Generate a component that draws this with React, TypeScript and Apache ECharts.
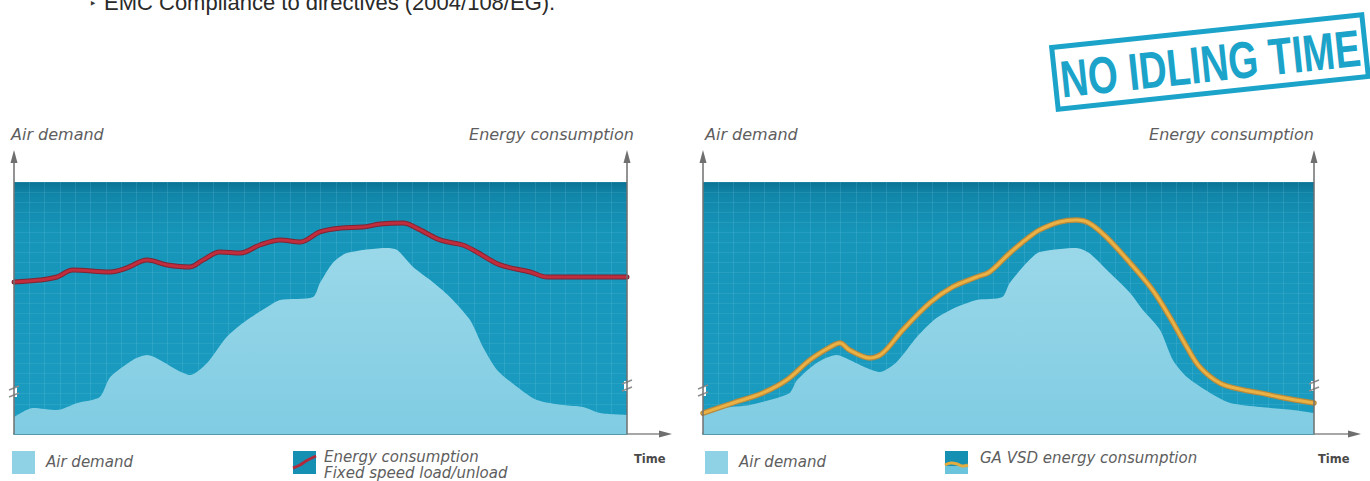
import React, { useEffect, useRef } from "react";
import * as echarts from "echarts";

// ---- data (time 0..100, value 0..100) ----
const leftAirT = [0, 3.1, 7.0, 10.3, 14.0, 15.7, 19.4, 21.7, 23.8, 26.6, 28.7, 31.5, 34.7, 38.0, 41.3, 43.4, 48.8, 49.9, 52.0, 54.3, 60.8, 62.5, 65.1, 67.9, 71.1, 74.4, 76.5, 78.8, 82.1, 85.3, 89.6, 92.8, 95.6, 100];
const leftAirV = [6.7, 10.3, 9.5, 12.3, 14.7, 22.6, 29.4, 31.3, 29.4, 25.4, 23.4, 28.2, 38.5, 45.2, 50.4, 53.2, 54.4, 59.9, 67.9, 71.8, 73.8, 73.0, 66.3, 61.1, 54.4, 45.2, 34.5, 25.4, 18.7, 13.5, 11.5, 10.7, 8.3, 7.5];

const fixedT = [0, 4.2, 7.0, 9.6, 15.7, 18.4, 21.7, 25.0, 28.7, 30.8, 33.6, 36.9, 40.1, 43.4, 46.7, 49.9, 53.2, 56.9, 59.7, 63.5, 65.7, 69.5, 73.2, 75.5, 79.3, 84.2, 87.0, 92.8, 100];
const fixedV = [60.3, 61.1, 62.3, 65.1, 64.3, 65.9, 69.0, 67.1, 66.3, 69.0, 72.2, 71.8, 75.0, 77.0, 76.2, 80.2, 81.7, 82.1, 83.3, 83.7, 81.7, 77.0, 75.0, 72.2, 67.1, 64.3, 62.3, 62.3, 62.3];

const rightAirT = [0, 3.3, 7.7, 10.9, 14.2, 15.4, 18.6, 21.9, 24.0, 26.8, 28.9, 31.7, 35.0, 38.2, 41.5, 44.8, 49.0, 50.2, 53.4, 55.1, 61.1, 63.2, 66.6, 69.9, 72.0, 74.8, 76.9, 79.2, 83.0, 86.3, 91.2, 96.6, 100];
const rightAirV = [8.3, 10.3, 11.5, 13.5, 16.3, 21.4, 28.2, 31.3, 29.4, 26.2, 24.6, 28.6, 38.5, 46.0, 50.4, 53.2, 54.4, 59.9, 69.0, 72.2, 73.8, 71.8, 63.9, 56.0, 49.2, 41.3, 29.4, 22.6, 16.3, 12.3, 10.7, 9.5, 8.3];

const vsdT = [0, 4.9, 9.8, 13.7, 17.5, 20.8, 22.4, 24.0, 27.3, 29.4, 32.7, 37.1, 40.8, 44.8, 46.9, 50.2, 53.4, 55.1, 58.3, 61.1, 63.2, 66.0, 69.9, 73.6, 76.4, 79.2, 81.3, 84.6, 88.4, 91.2, 94.3, 100];
const vsdV = [8.3, 12.3, 16.3, 21.4, 29.4, 34.5, 36.1, 33.3, 30.2, 32.1, 41.3, 52.0, 58.3, 62.3, 64.3, 71.8, 78.2, 81.0, 84.1, 84.9, 83.7, 78.2, 67.9, 57.1, 46.4, 34.5, 26.6, 20.2, 17.5, 16.3, 14.7, 12.3];

const topNote = "EMC Compliance to directives (2004/108/EG).";
const stampText = "NO IDLING TIME";
const axisLeftLabel = "Air demand";
const axisRightLabel = "Energy consumption";
const timeLabel = "Time";
const legendAir = "Air demand";
const legendFixed = ["Energy consumption", "Fixed speed load/unload"];
const legendVsd = "GA VSD energy consumption";

const zip = (t: number[], v: number[]) => t.map((x, i) => [x, v[i]]);

const TEXT = "#5e5e5e";
const AXIS = "#6f6f6f";
const FONT = '"DejaVu Sans", sans-serif';

function bgGradient() {
  return new echarts.graphic.LinearGradient(0, 0, 0, 1, [
    { offset: 0, color: "#0b7394" },
    { offset: 0.05, color: "#1186a9" },
    { offset: 0.2, color: "#1695b9" },
    { offset: 1, color: "#1a9cc0" },
  ]);
}
function airGradient() {
  return new echarts.graphic.LinearGradient(0, 0, 0, 1, [
    { offset: 0, color: "#9ad8e9" },
    { offset: 1, color: "#80cce2" },
  ]);
}

export default function App() {
  const ref = useRef<HTMLDivElement>(null);

  useEffect(() => {
    if (!ref.current) return;
    const chart = echarts.init(ref.current, null, { renderer: "svg", width: 1370, height: 481 });

    const grids = [
      { left: 14, top: 182, width: 613, height: 252 },
      { left: 703, top: 182, width: 611, height: 252 },
    ];

    const xAxes = grids.map((_, i) => ({
      type: "value",
      gridIndex: i,
      min: 0,
      max: 100,
      interval: 2.5,
      axisLabel: { show: false },
      axisTick: { show: false },
      axisLine: { show: true, onZero: false, lineStyle: { color: "#5a97a8", width: 2 } },
      splitLine: { show: true, lineStyle: { color: "rgba(140,215,240,0.16)", width: 1 } },
    }));
    const yAxes = grids.map((_, i) => ({
      type: "value",
      gridIndex: i,
      min: 0,
      max: 100,
      interval: 4,
      axisLabel: { show: false },
      axisTick: { show: false },
      axisLine: { show: false },
      splitLine: { show: true, lineStyle: { color: "rgba(140,215,240,0.13)", width: 1 } },
    }));

    const areaSeries = (idx: number, t: number[], v: number[]) => ({
      type: "line",
      xAxisIndex: idx,
      yAxisIndex: idx,
      data: zip(t, v),
      smooth: 0.25,
      symbol: "none",
      lineStyle: { width: 0 },
      areaStyle: { color: airGradient(), opacity: 1 },
      z: 2,
    });
    const lineSeries = (idx: number, t: number[], v: number[], color: string, width: number, z: number) => ({
      type: "line",
      xAxisIndex: idx,
      yAxisIndex: idx,
      data: zip(t, v),
      smooth: 0.35,
      symbol: "none",
      lineStyle: { width, color, cap: "round", join: "round" },
      z,
    });

    const upArrow = (x: number) => [
      { type: "line", shape: { x1: x, y1: 160, x2: x, y2: 434 }, style: { stroke: AXIS, lineWidth: 1.5 }, z: 10 },
      { type: "polygon", shape: { points: [[x, 150], [x - 3.5, 163], [x + 3.5, 163]] }, style: { fill: AXIS }, z: 10 },
    ];
    const rightArrow = (x1: number, x2: number) => [
      { type: "line", shape: { x1, y1: 434, x2: x2 - 6, y2: 434 }, style: { stroke: "#8a8a8a", lineWidth: 1.5 }, z: 10 },
      { type: "polygon", shape: { points: [[x2, 434], [x2 - 13, 430.5], [x2 - 13, 437.5]] }, style: { fill: AXIS }, z: 10 },
    ];
    const breakMark = (x: number, y: number) => ({
      type: "group",
      x,
      y,
      z: 11,
      children: [
        { type: "rect", shape: { x: -3, y: -5, width: 6, height: 10 }, style: { fill: "#ffffff" } },
        { type: "line", shape: { x1: -5, y1: -2, x2: 5, y2: -6 }, style: { stroke: "#8c8c8c", lineWidth: 1.5 } },
        { type: "line", shape: { x1: -5, y1: 5, x2: 5, y2: 1 }, style: { stroke: "#8c8c8c", lineWidth: 1.5 } },
      ],
    });
    const txt = (text: string, x: number, y: number, size: number, opts: any = {}) => ({
      type: "text",
      x,
      y,
      z: 12,
      style: {
        text,
        fontSize: size,
        fontFamily: opts.family || FONT,
        fontStyle: opts.italic === false ? "normal" : "italic",
        fontWeight: opts.weight || "normal",
        fill: opts.fill || TEXT,
        align: opts.align || "left",
        verticalAlign: opts.valign || "middle",
      },
    });

    const graphic: any[] = [
      // top note (cut at the top edge, as in the source page)
      txt("‣", 89, 3, 13, { italic: false, fill: "#333", family: '"DejaVu Sans", sans-serif' }),
      txt(topNote, 104, 2, 22, { italic: false, fill: "#2a2a2a", family: '"Liberation Sans", Arial, sans-serif' }),
      // stamp
      {
        type: "group",
        x: 1210,
        y: 62,
        rotation: 0.105,
        z: 12,
        children: [
          { type: "rect", shape: { x: -156, y: -31, width: 312, height: 62 }, style: { fill: "none", stroke: "#1ba3c9", lineWidth: 5 } },
          {
            type: "text",
            x: 0,
            y: 2,
            scaleX: 0.74,
            style: {
              text: stampText,
              fontSize: 52,
              fontWeight: "bold",
              fontFamily: '"Liberation Sans", Arial, sans-serif',
              fill: "#1ba3c9",
              align: "center",
              verticalAlign: "middle",
            },
          },
        ],
      },
      // axis titles
      txt(axisLeftLabel, 11, 134, 16),
      txt(axisRightLabel, 634, 134, 16, { align: "right" }),
      txt(axisLeftLabel, 705, 134, 16),
      txt(axisRightLabel, 1314, 134, 16, { align: "right" }),
      // axes
      ...upArrow(14),
      ...upArrow(627),
      ...upArrow(703),
      ...upArrow(1314),
      ...rightArrow(627, 672),
      ...rightArrow(1314, 1361),
      breakMark(14, 392),
      breakMark(627, 386),
      breakMark(703, 391),
      breakMark(1314, 386),
      // legends left
      { type: "rect", shape: { x: 12, y: 451, width: 23, height: 23 }, style: { fill: "#8fd2e6" }, z: 12 },
      txt(legendAir, 46, 462, 15),
      { type: "rect", shape: { x: 293, y: 451, width: 23, height: 23 }, style: { fill: "#1590b3" }, z: 12 },
      { type: "polyline", shape: { points: [[293, 468], [300, 465], [306, 461], [316, 456]], smooth: 0.4 }, style: { stroke: "#b02a3c", lineWidth: 3 }, z: 13 },
      txt(legendFixed[0], 324, 457, 15),
      txt(legendFixed[1], 324, 473, 15),
      txt(timeLabel, 634, 459, 11.5, { italic: false, weight: "bold", fill: "#4a4a4a" }),
      // legends right
      { type: "rect", shape: { x: 705, y: 451, width: 23, height: 23 }, style: { fill: "#8fd2e6" }, z: 12 },
      txt(legendAir, 739, 462, 15),
      { type: "rect", shape: { x: 945, y: 451, width: 23, height: 23 }, style: { fill: "#1590b3" }, z: 12 },
      { type: "rect", shape: { x: 945, y: 466, width: 23, height: 8 }, style: { fill: "#6cc3dc" }, z: 12 },
      { type: "polyline", shape: { points: [[945, 465], [951, 463], [957, 464], [962, 466], [968, 465]], smooth: 0.5 }, style: { stroke: "#e4ab3e", lineWidth: 3 }, z: 13 },
      txt(legendVsd, 980, 458, 15),
      txt(timeLabel, 1318, 459, 11.5, { italic: false, weight: "bold", fill: "#4a4a4a" }),
    ];

    chart.setOption({
      animation: false,
      backgroundColor: "#ffffff",
      grid: grids.map((g) => ({ ...g, show: true, borderWidth: 0, backgroundColor: bgGradient() })),
      xAxis: xAxes,
      yAxis: yAxes,
      series: [
        areaSeries(0, leftAirT, leftAirV),
        lineSeries(0, fixedT, fixedV, "#7d2535", 5, 3),
        lineSeries(0, fixedT, fixedV, "#c02e3e", 3, 4),
        areaSeries(1, rightAirT, rightAirV),
        lineSeries(1, vsdT, vsdV, "#b88a3c", 5.5, 3),
        lineSeries(1, vsdT, vsdV, "#eab145", 3, 4),
      ],
      graphic,
    });

    return () => chart.dispose();
  }, []);

  return (
    <div
      ref={ref}
      style={{ position: "fixed", left: 0, top: 0, width: 1370, height: 481 }}
    />
  );
}
